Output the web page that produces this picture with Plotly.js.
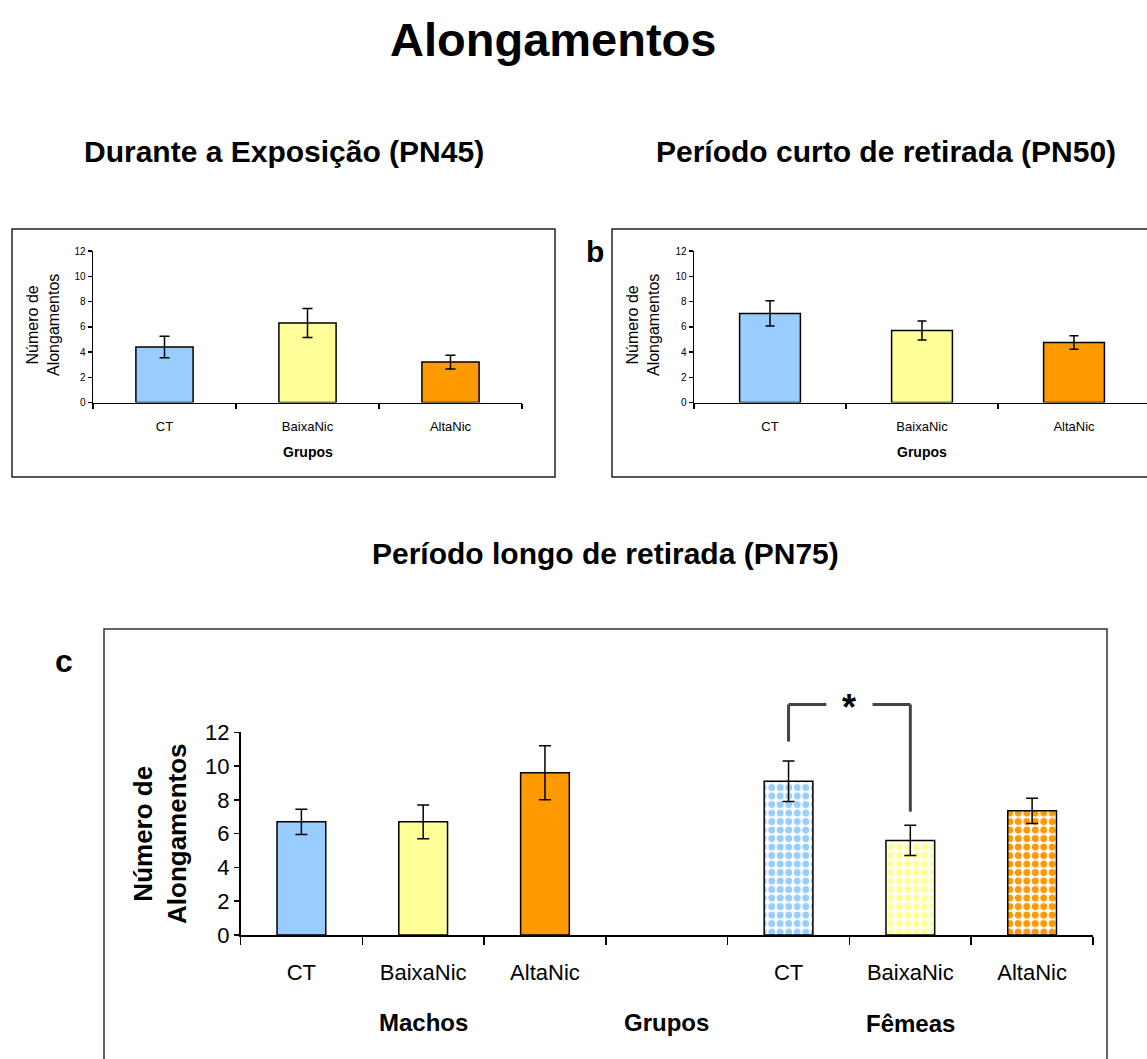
<!DOCTYPE html>
<html>
<head>
<meta charset="utf-8">
<script src="https://cdn.plot.ly/plotly-3.0.1.min.js"></script>
<style>
  html, body { margin: 0; padding: 0; background: #fff; }
  #chart { width: 1147px; height: 1059px; }
</style>
</head>
<body>
<div id="chart"></div>
<script>
// ---------- data ----------
const groups = ['CT', 'BaixaNic', 'AltaNic'];
const groupColors = ['#99CCFF', '#FFFF99', '#FF9900'];

const pn45Mean = [4.4, 6.3, 3.2];
const pn45Err  = [0.85, 1.15, 0.55];

const pn50Mean = [7.05, 5.7, 4.75];
const pn50Err  = [1.0, 0.75, 0.53];

const pn75MachosMean = [6.7, 6.7, 9.6];
const pn75MachosErr  = [0.75, 1.0, 1.6];
const pn75FemeasMean = [9.1, 5.6, 7.35];
const pn75FemeasErr  = [1.2, 0.9, 0.75];

const yTicks = [0, 2, 4, 6, 8, 10, 12];

const mainTitle = 'Alongamentos';
const titleA = 'Durante a Exposição (PN45)';
const titleB = 'Período curto de retirada (PN50)';
const titleC = 'Período longo de retirada (PN75)';
const yTitle = 'Número de<br>Alongamentos';
const xTitle = 'Grupos';
const sexLabels = ['Machos', 'Fêmeas'];

// significance bracket (data units of panel c)
const sigPair = [4, 5];          // Fêmeas CT vs Fêmeas BaixaNic
const sigTop = 13.65, sigLeftBottom = 11.45, sigRightBottom = 7.3;

// ---------- layout helpers ----------
const W = 1147, H = 1059;
const FONT = '"Liberation Sans", Arial, sans-serif';
const px = p => p / W;
const py = p => 1 - p / H;

const idx = groups.map((_, i) => i);
const machosX = idx;
const femeasX = idx.map(i => i + 4);

const yDomAB = [py(402.5), py(251)];
const yDomC = [py(935), py(732.3)];
const yToPaperC = v => yDomC[0] + (v / 12) * (yDomC[1] - yDomC[0]);

function barTrace(x, y, err, xa, ya, cap, pattern) {
  const t = {
    type: 'bar', x: x, y: y, xaxis: xa, yaxis: ya,
    marker: { color: groupColors, line: { color: '#000', width: 1.5 } },
    error_y: { type: 'data', array: err, visible: true, color: '#000', thickness: 1.5, width: cap },
    hoverinfo: 'skip', showlegend: false
  };
  if (pattern) {
    t.marker.pattern = { shape: '.', fillmode: 'replace', bgcolor: '#ffffff', fgcolor: groupColors, size: 8.5, solidity: 0.52 };
  }
  return t;
}

const data = [
  barTrace(idx, pn45Mean, pn45Err, 'x', 'y', 5, false),
  barTrace(idx, pn50Mean, pn50Err, 'x2', 'y2', 4.5, false),
  barTrace(machosX, pn75MachosMean, pn75MachosErr, 'x3', 'y3', 6, false),
  barTrace(femeasX, pn75FemeasMean, pn75FemeasErr, 'x3', 'y3', 6, true)
];

function xAxis(domain, range, tickvals, ticktext, bounds, fontSize, tlen, standoff) {
  return {
    domain: domain, range: range, fixedrange: true,
    tickmode: 'array', tickvals: tickvals, ticktext: ticktext, ticks: '',
    tickfont: { family: FONT, size: fontSize, color: '#000' },
    ticklabelstandoff: standoff,
    showline: true, linecolor: '#000', linewidth: 1.5,
    showgrid: false, zeroline: false,
    minor: { tickmode: 'array', tickvals: bounds, ticks: 'outside', ticklen: tlen, tickwidth: 1.5, tickcolor: '#000', showgrid: false }
  };
}
function yAxis(domain, anchor, fontSize, tlen) {
  return {
    domain: domain, range: [0, 12], anchor: anchor, fixedrange: true,
    tickmode: 'array', tickvals: yTicks, ticks: 'outside', ticklen: tlen, tickwidth: 1.5, tickcolor: '#000',
    tickfont: { family: FONT, size: fontSize, color: '#000' },
    showline: true, linecolor: '#000', linewidth: 1.5,
    showgrid: false, zeroline: false
  };
}

const boundsAB = [-0.5, 0.5, 1.5, 2.5];
const boundsC = [-0.5, 0.5, 1.5, 2.5, 3.5, 4.5, 5.5, 6.5];

function note(text, xref, x, yPix, size, extra) {
  return Object.assign({
    text: text, xref: xref, yref: 'paper', x: x, y: py(yPix),
    xanchor: 'center', yanchor: 'middle', showarrow: false,
    font: { family: FONT, size: size, color: '#000' }
  }, extra || {});
}

const layout = {
  width: W, height: H,
  margin: { l: 0, r: 0, t: 0, b: 0, pad: 0 },
  paper_bgcolor: '#fff', plot_bgcolor: 'rgba(0,0,0,0)',
  showlegend: false, bargap: 0.6,
  font: { family: FONT, color: '#000' },
  xaxis: Object.assign(xAxis([px(93), px(522)], [-0.5, 2.5], idx, groups, boundsAB, 13, 5, 11), { anchor: 'y' }),
  yaxis: yAxis(yDomAB, 'x', 10, 4),
  xaxis2: Object.assign(xAxis([px(694), 1], [-0.5, -0.5 + (W - 694) / 152], idx, groups, boundsAB, 13, 5, 11), { anchor: 'y2' }),
  yaxis2: yAxis(yDomAB, 'x2', 10, 4),
  xaxis3: Object.assign(xAxis([px(240.5), px(1093)], [-0.5, 6.5], machosX.concat(femeasX), groups.concat(groups), boundsC, 22, 8, 17), { anchor: 'y3' }),
  yaxis3: yAxis(yDomC, 'x3', 22, 5),
  shapes: [
    { type: 'rect', xref: 'paper', yref: 'paper', x0: px(12), x1: px(555), y0: py(477), y1: py(229), line: { color: '#222', width: 1.5 }, layer: 'below' },
    { type: 'rect', xref: 'paper', yref: 'paper', x0: px(612), x1: px(1160), y0: py(477), y1: py(229), line: { color: '#222', width: 1.5 }, layer: 'below' },
    { type: 'rect', xref: 'paper', yref: 'paper', x0: px(104), x1: px(1107), y0: py(1075), y1: py(629), line: { color: '#333', width: 1.5 }, layer: 'below' },
    { type: 'line', xref: 'x3', yref: 'paper', x0: sigPair[0], x1: sigPair[0], y0: yToPaperC(sigLeftBottom), y1: yToPaperC(sigTop), line: { color: '#444', width: 3 } },
    { type: 'line', xref: 'x3', yref: 'paper', x0: sigPair[0], x1: sigPair[0] + 0.31, y0: yToPaperC(sigTop), y1: yToPaperC(sigTop), line: { color: '#444', width: 3 } },
    { type: 'line', xref: 'x3', yref: 'paper', x0: sigPair[1] - 0.31, x1: sigPair[1], y0: yToPaperC(sigTop), y1: yToPaperC(sigTop), line: { color: '#444', width: 3 } },
    { type: 'line', xref: 'x3', yref: 'paper', x0: sigPair[1], x1: sigPair[1], y0: yToPaperC(sigTop), y1: yToPaperC(sigRightBottom), line: { color: '#444', width: 3 } }
  ],
  annotations: [
    note('<b>' + mainTitle + '</b>', 'paper', px(552.5), 40, 47),
    note('<b>' + titleA + '</b>', 'paper', px(283.5), 151, 30),
    note('<b>' + titleB + '</b>', 'paper', px(886), 151, 30),
    note('<b>' + titleC + '</b>', 'paper', px(605), 553, 30),
    note('<b>b</b>', 'paper', px(595), 251, 30),
    note('<b>c</b>', 'paper', px(64), 661, 32),
    note(yTitle, 'paper', px(43), 325, 16, { textangle: -90 }),
    note(yTitle, 'paper', px(643), 325, 16, { textangle: -90 }),
    note('<b>' + yTitle + '</b>', 'paper', px(160), 834, 26, { textangle: -90 }),
    note('<b>' + xTitle + '</b>', 'x', 1, 452, 14),
    note('<b>' + xTitle + '</b>', 'x2', 1, 452, 14),
    note('<b>' + sexLabels[0] + '</b>', 'x3', machosX[1], 1022, 24),
    note('<b>' + xTitle + '</b>', 'x3', 3, 1022, 24),
    note('<b>' + sexLabels[1] + '</b>', 'x3', femeasX[1], 1023, 24),
    note('<b>*</b>', 'x3', (sigPair[0] + sigPair[1]) / 2, 707, 36)
  ]
};

Plotly.newPlot('chart', data, layout, { staticPlot: true, displayModeBar: false });
</script>
</body>
</html>
